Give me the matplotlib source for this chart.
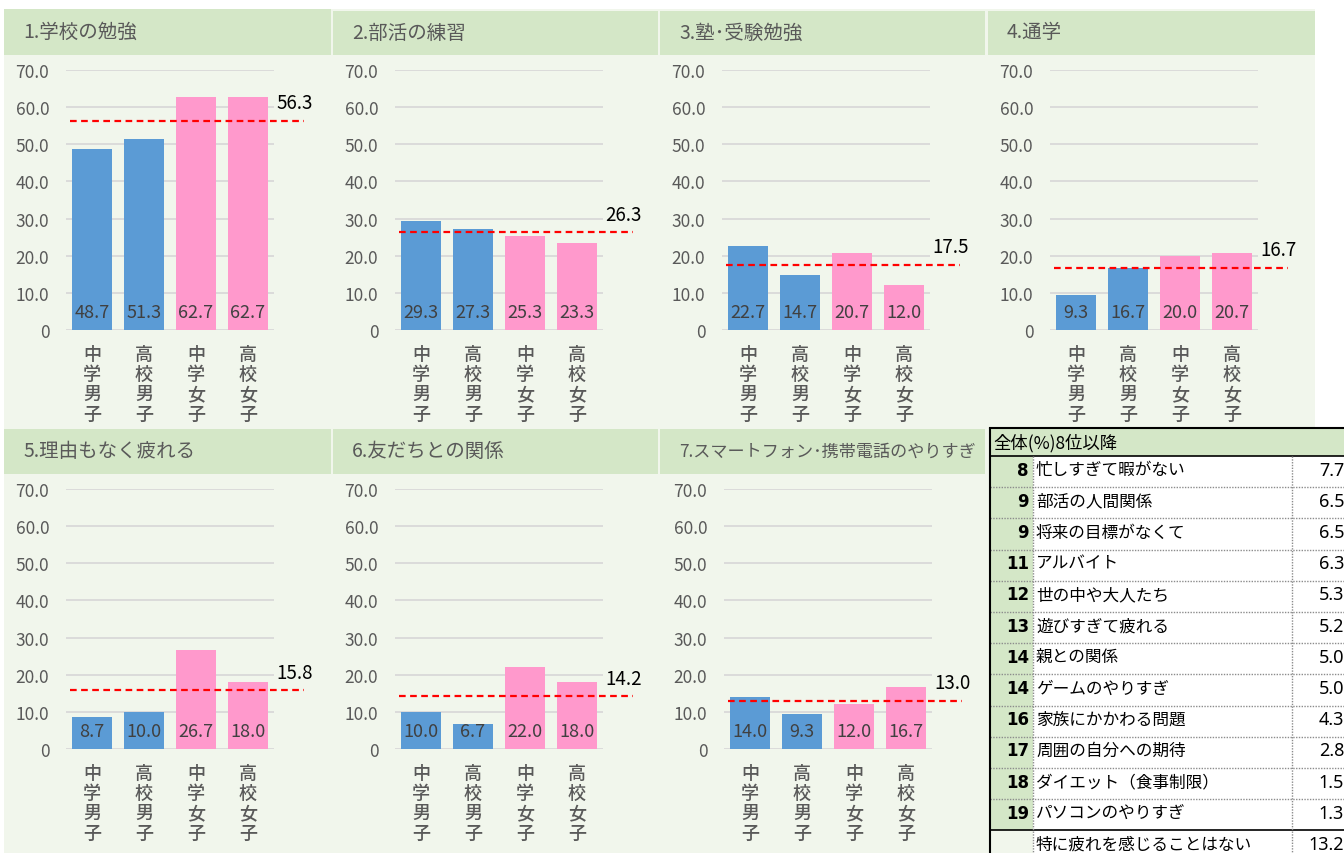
import matplotlib.pyplot as plt
from matplotlib.patches import Rectangle

plt.rcParams['font.family'] = ['Noto Sans CJK JP', 'DejaVu Sans']
NARROW = ['Liberation Sans Narrow', 'Noto Sans CJK JP', 'DejaVu Sans']

# ---- data ----
groups = ['中学男子', '高校男子', '中学女子', '高校女子']
titles = ['1.学校の勉強', '2.部活の練習', '3.塾･受験勉強', '4.通学',
          '5.理由もなく疲れる', '6.友だちとの関係', '7.スマートフォン･携帯電話のやりすぎ']
school_study = [48.7, 51.3, 62.7, 62.7]
club_practice = [29.3, 27.3, 25.3, 23.3]
cram_school = [22.7, 14.7, 20.7, 12.0]
commuting = [9.3, 16.7, 20.0, 20.7]
no_reason = [8.7, 10.0, 26.7, 18.0]
friends = [10.0, 6.7, 22.0, 18.0]
smartphone = [14.0, 9.3, 12.0, 16.7]
series = [school_study, club_practice, cram_school, commuting,
          no_reason, friends, smartphone]
overall = [56.3, 26.3, 17.5, 16.7, 15.8, 14.2, 13.0]

table_title = '全体(%)8位以降'
ranks = ['8', '9', '9', '11', '12', '13', '14', '14', '16', '17', '18', '19', '']
items = ['忙しすぎて暇がない', '部活の人間関係', '将来の目標がなくて', 'アルバイト',
         '世の中や大人たち', '遊びすぎて疲れる', '親との関係', 'ゲームのやりすぎ',
         '家族にかかわる問題', '周囲の自分への期待', 'ダイエット（食事制限）',
         'パソコンのやりすぎ', '特に疲れを感じることはない']
totals = [7.7, 6.5, 6.5, 6.3, 5.3, 5.2, 5.0, 5.0, 4.3, 2.8, 1.5, 1.3, 13.2]

# ---- style ----
W, H = 1344, 854
BLUE, PINK = '#5b9bd5', '#ff99cc'
BAND, BODY = '#d4e7c7', '#f1f6ec'
GREY = '#595959'
title_size = [14, 14, 14, 14, 14, 14, 12.3]

fig = plt.figure(figsize=(W / 100, H / 100), dpi=100, facecolor='white')

# canvas in pixel coordinates for panel backgrounds and the table
bg = fig.add_axes([0, 0, 1, 1])
bg.set_xlim(0, W)
bg.set_ylim(H, 0)
bg.axis('off')

col_left = [4, 333, 660, 988]
col_right = [331, 658, 985, 1315]
bg.add_patch(Rectangle((4, 10), 1311, 420, color=BODY, lw=0))
bg.add_patch(Rectangle((4, 428), 986, 426, color=BODY, lw=0))


def px_axes(left, top, width, height):
    return fig.add_axes([left / W, 1 - (top + height) / H, width / W, height / H])


for k, vals in enumerate(series):
    row, col = divmod(k, 4)
    l, r = col_left[col], col_right[col]
    band_top = (10 if col == 0 else 12) if row == 0 else 430
    band_bot = 56 if row == 0 else 475
    bg.add_patch(Rectangle((l, band_top), r - l, band_bot - band_top, color=BAND, lw=0))
    bg.text(l + 19, (band_top + band_bot) / 2 - 1, titles[k], fontsize=title_size[k],
            color=GREY, ha='left', va='center')

    top = 71 if row == 0 else 490
    ax = px_axes(l + 62 + (2 if (row == 1 and col == 2) else 0), top, 208, 260)
    ax.set_facecolor('none')
    ax.set_xlim(-0.5, 3.5)
    ax.set_ylim(0, 70)
    for s in ax.spines.values():
        s.set_visible(False)
    ax.set_axisbelow(True)
    ax.grid(axis='y', color='#d9d9d9', lw=1.3)
    ax.set_yticks(range(0, 71, 10))
    ax.set_yticklabels(['0' if t == 0 else f'{t:.1f}' for t in range(0, 71, 10)],
                       family=NARROW)
    ax.tick_params(axis='y', length=0, pad=12, labelsize=12.5, labelcolor=GREY)
    x = range(len(groups))
    ax.bar(x, vals, width=0.77, color=[BLUE, BLUE, PINK, PINK], lw=0)
    ax.set_xticks(list(x))
    ax.set_xticklabels(['\n'.join(g) for g in groups], linespacing=1.14,
                       fontweight='medium')
    ax.tick_params(axis='x', length=0, pad=11, labelsize=13, labelcolor=GREY)
    for i, v in enumerate(vals):
        ax.annotate(f'{v:.1f}', (i, 0), xytext=(0, 13), textcoords='offset points',
                    ha='center', va='center', fontsize=13, color='#404040',
                    family=NARROW)
    avg = overall[k]
    ax.plot([-0.43, 4.07], [avg, avg], color='#ff0000', ls=(0, (3, 2)), lw=1.6,
            clip_on=False)
    ax.annotate(f'{avg:.1f}', (4.25, avg), xytext=(0, 13), textcoords='offset points',
                ha='right', va='center', fontsize=13.5, color='black',
                annotation_clip=False)

# ---- table ----
tx0, tx1, tx2, tx3 = 990, 1033, 1292, 1350
ty0, head_h, row_h = 430, 27, 31.2
bg.add_patch(Rectangle((tx0, ty0), tx3 - tx0, head_h, color=BAND, lw=0))
bg.text(tx0 + 3, ty0 + head_h / 2, table_title, fontsize=12.5, ha='left',
        va='center', color='black')
for i, (rk, it, tv) in enumerate(zip(ranks, items, totals)):
    y = ty0 + head_h + i * row_h
    bg.add_patch(Rectangle((tx0, y), tx1 - tx0, row_h,
                           color=BAND if rk else BODY, lw=0))
    bg.add_patch(Rectangle((tx1, y), tx3 - tx1, row_h, color='white', lw=0))
    yc = y + row_h / 2 - 2
    bg.text(tx1 - 4, yc, rk, fontsize=12, fontweight='bold', ha='right',
            va='center', color='black', family=['DejaVu Sans'])
    bg.text(tx1 + 3, yc, it, fontsize=12, ha='left', va='center', color='black')
    bg.text(1344, yc, f'{tv:.1f}', fontsize=13, ha='right', va='center',
            color='black', family=['Noto Sans', 'DejaVu Sans'])
    solid = (i == 0) or (i == len(ranks) - 1)
    bg.plot([tx0, tx3], [y, y], color='black' if solid else '#8c8c8c',
            ls='-' if solid else (0, (1, 1)), lw=1.2 if solid else 1.0)
bot = ty0 + head_h + len(ranks) * row_h
for xv in (tx1, tx2):
    bg.plot([xv, xv], [ty0 + head_h, bot], color='#8c8c8c', ls=(0, (1, 1)), lw=1.0)
bg.plot([tx0, tx0], [ty0, bot], color='black', lw=1.5)
bg.plot([tx0, tx3], [ty0 - 1, ty0 - 1], color='black', lw=1.5)

fig.savefig('out.png', dpi=100, facecolor='white')
